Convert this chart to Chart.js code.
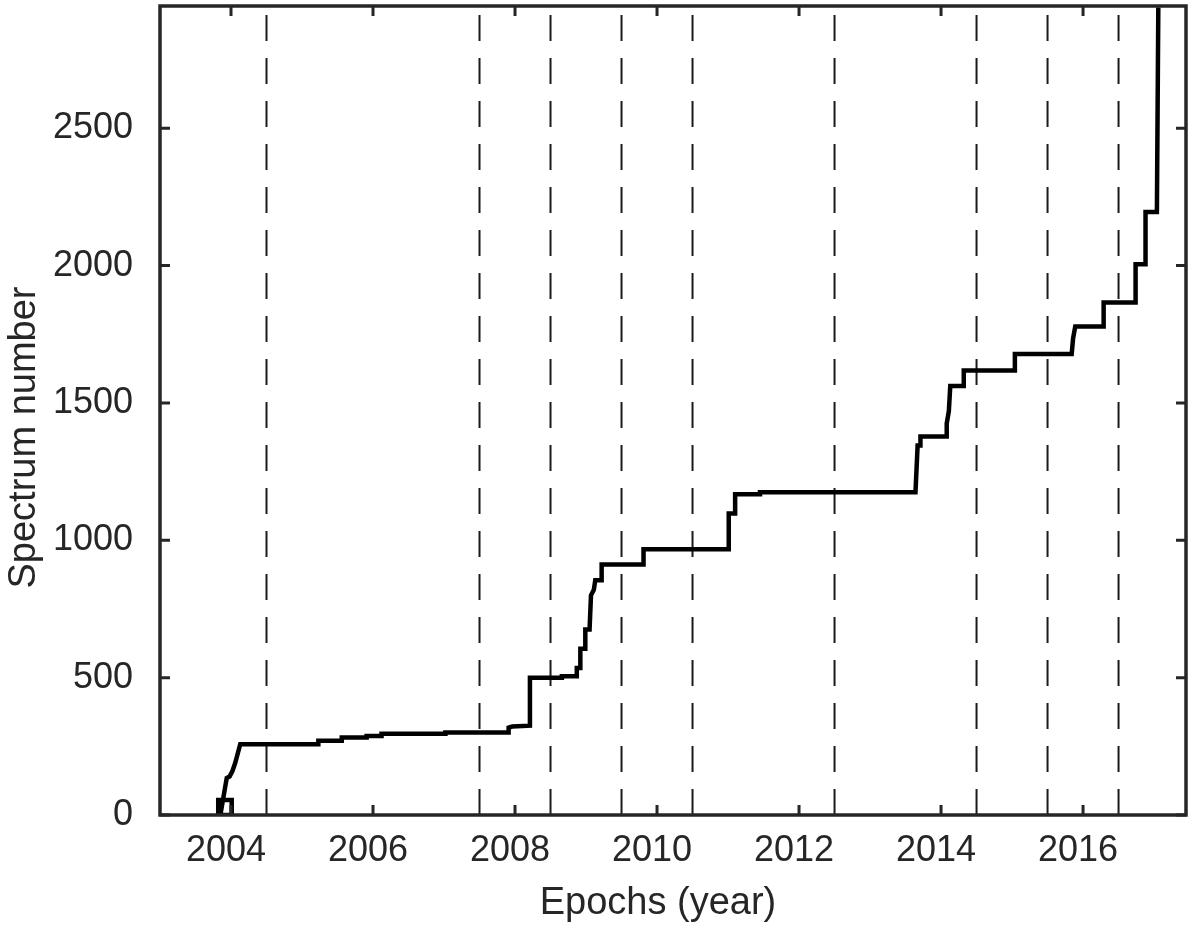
<!DOCTYPE html>
<html>
<head>
<meta charset="utf-8">
<title>Spectrum number vs epochs</title>
<script src="https://cdn.jsdelivr.net/npm/chart.js@4/dist/chart.umd.min.js"></script>
<style>
  html, body { margin: 0; padding: 0; background: #fff; }
</style>
</head>
<body>
<canvas id="epochChart" width="1200" height="931"></canvas>
<script>
// cumulative spectrum count (epoch in decimal years)
const epochs = [
  2003.82, 2003.82, 2004.01, 2004.01, 2003.85, 2003.94, 2003.98, 2004.02, 2004.06, 2004.13,
  2005.23, 2005.23, 2005.56, 2005.56, 2005.91, 2005.91, 2006.12, 2006.12, 2007.02, 2007.02,
  2007.91, 2007.91, 2007.96, 2008.21, 2008.21, 2008.66, 2008.66, 2008.87, 2008.87, 2008.92,
  2008.92, 2008.99, 2008.99, 2009.05, 2009.07, 2009.11, 2009.13, 2009.22, 2009.22, 2009.81,
  2009.81, 2011.01, 2011.01, 2011.10, 2011.10, 2011.45, 2011.45, 2013.64, 2013.67, 2013.71,
  2013.71, 2014.08, 2014.08, 2014.11, 2014.13, 2014.32, 2014.32, 2015.04, 2015.04, 2015.84,
  2015.86, 2015.89, 2016.29, 2016.29, 2016.74, 2016.74, 2016.88, 2016.88, 2017.04, 2017.06
];
const spectra = [
  0, 55, 55, 0, 0, 135, 140, 160, 190, 258,
  258, 270, 270, 282, 282, 288, 288, 296, 296, 300,
  300, 318, 322, 325, 500, 500, 505, 505, 535, 535,
  605, 605, 675, 675, 800, 820, 855, 855, 912, 912,
  967, 967, 1098, 1098, 1168, 1168, 1175, 1175, 1345, 1345,
  1378, 1378, 1425, 1470, 1562, 1562, 1618, 1618, 1678, 1678,
  1735, 1778, 1778, 1866, 1866, 2005, 2005, 2195, 2195, 2940
];
// dashed separators
const gapEpochs = [2004.5, 2007.5, 2008.5, 2009.5, 2010.5, 2012.5, 2014.5, 2015.5, 2016.5];

const xTicks = [2004, 2006, 2008, 2010, 2012, 2014, 2016];
const yTicks = [0, 500, 1000, 1500, 2000, 2500];
const xMin = 2003, xMax = 2017.45;
const yMin = 0, yMax = 2945;

const AXIS_COLOR = "#262626";
const TICK_LEN = 10;

const curve = epochs.map((e, i) => ({ x: e, y: spectra[i] }));

const gapSets = gapEpochs.map(e => ({
  data: [{ x: e, y: yMin }, { x: e, y: yMax }],
  borderColor: "#1a1a1a",
  borderWidth: 2,
  borderDash: [26, 17],
  pointRadius: 0,
  fill: false,
}));

// MATLAB style box, inward ticks and axis labels
const boxAxes = {
  id: "boxAxes",
  afterDatasetsDraw(chart) {
    const { ctx, chartArea: a, scales: { x, y } } = chart;
    ctx.save();
    ctx.strokeStyle = AXIS_COLOR;
    ctx.lineWidth = 3;
    ctx.beginPath();
    xTicks.forEach(v => {
      const px = x.getPixelForValue(v);
      ctx.moveTo(px, a.bottom);
      ctx.lineTo(px, a.bottom - TICK_LEN);
      ctx.moveTo(px, a.top);
      ctx.lineTo(px, a.top + TICK_LEN);
    });
    yTicks.forEach(v => {
      const py = y.getPixelForValue(v);
      ctx.moveTo(a.left, py);
      ctx.lineTo(a.left + TICK_LEN, py);
      ctx.moveTo(a.right, py);
      ctx.lineTo(a.right - TICK_LEN, py);
    });
    ctx.stroke();
    ctx.lineWidth = 3.5;
    ctx.strokeRect(a.left, a.top, a.width, a.height);

    ctx.fillStyle = AXIS_COLOR;
    ctx.font = "38px 'Liberation Sans', Arial, sans-serif";
    ctx.textAlign = "center";
    ctx.textBaseline = "alphabetic";
    ctx.fillText("Epochs (year)", (a.left + a.right) / 2 - 15, 914);
    ctx.translate(35, (a.top + a.bottom) / 2 + 27);
    ctx.rotate(-Math.PI / 2);
    ctx.fillText("Spectrum number", 0, 0);
    ctx.restore();
  }
};

const ctx = document.getElementById("epochChart").getContext("2d");
new Chart(ctx, {
  type: "line",
  data: {
    datasets: [
      {
        data: curve,
        borderColor: "#000",
        borderWidth: 4.5,
        borderJoinStyle: "miter",
        borderCapStyle: "butt",
        pointRadius: 0,
        tension: 0,
        fill: false,
      },
      ...gapSets,
    ],
  },
  options: {
    responsive: false,
    animation: false,
    devicePixelRatio: 1,
    layout: { padding: { top: 6, right: 14, left: 0, bottom: 0 } },
    plugins: { legend: { display: false }, tooltip: { enabled: false } },
    scales: {
      x: {
        type: "linear",
        min: xMin,
        max: xMax,
        grid: { display: false, drawTicks: false, tickLength: 0 },
        border: { display: false },
        afterBuildTicks: s => { s.ticks = xTicks.map(v => ({ value: v })); },
        afterFit: s => { s.height = 116; s.paddingLeft = 0; s.paddingRight = 0; },
        ticks: {
          color: AXIS_COLOR,
          font: { family: "'Liberation Sans', Arial, sans-serif", size: 36 },
          padding: 14,
          labelOffset: -5,
          maxRotation: 0,
          callback: v => String(v),
        },
      },
      y: {
        type: "linear",
        min: yMin,
        max: yMax,
        grid: { display: false, drawTicks: false, tickLength: 0 },
        border: { display: false },
        afterBuildTicks: s => { s.ticks = yTicks.map(v => ({ value: v })); },
        afterFit: s => { s.width = 160; s.paddingTop = 0; s.paddingBottom = 0; },
        ticks: {
          color: AXIS_COLOR,
          font: { family: "'Liberation Sans', Arial, sans-serif", size: 36 },
          padding: 27,
          callback: v => String(v),
        },
      },
    },
  },
  plugins: [boxAxes],
});
</script>
</body>
</html>
